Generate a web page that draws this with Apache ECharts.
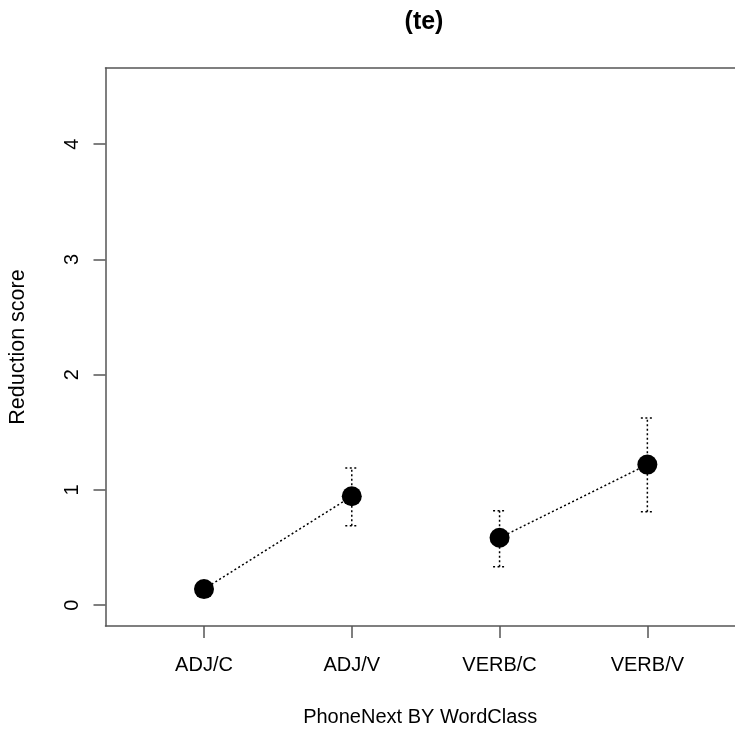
<!DOCTYPE html>
<html>
<head>
<meta charset="utf-8">
<script src="https://cdn.jsdelivr.net/npm/echarts@6/dist/echarts.min.js"></script>
<style>
  html, body { margin: 0; padding: 0; background: #fff; }
  #chart { width: 735px; height: 730px; }
</style>
</head>
<body>
<div id="chart"></div>
<script>
// Mean reduction score per PhoneNext x WordClass cell, with interval bounds
const categories = ['ADJ/C', 'ADJ/V', 'VERB/C', 'VERB/V'];
const means = [0.14, 0.945, 0.585, 1.22];
const errLow = [null, 0.69, 0.335, 0.81];
const errHigh = [null, 1.19, 0.82, 1.625];
const yTicks = [0, 1, 2, 3, 4];
const xTicks = [1, 2, 3, 4];
// Cells joined by a dotted line (same word class)
const linkedPairs = [[0, 1], [2, 3]];

const FONT = "'Liberation Sans', Arial, Helvetica, sans-serif";
const INK = '#000';
const AXIS = '#555';

const chart = echarts.init(document.getElementById('chart'), null, { renderer: 'canvas' });

const lineSeries = linkedPairs.map(pair => ({
  type: 'line',
  data: pair.map(i => [xTicks[i], means[i]]),
  symbol: 'none',
  silent: true,
  z: 2,
  lineStyle: { color: INK, width: 1.5, type: [2, 2.5] }
}));

const errData = categories
  .map((c, i) => [xTicks[i], errLow[i], errHigh[i]])
  .filter(d => d[1] != null && d[2] != null);

const errSeries = {
  type: 'custom',
  data: errData,
  silent: true,
  z: 3,
  renderItem: function (params, api) {
    const x = api.value(0);
    const lo = api.coord([x, api.value(1)]);
    const hi = api.coord([x, api.value(2)]);
    const half = 6.5;
    const style = { stroke: INK, lineWidth: 1.5, lineDash: [2, 2.5], fill: null };
    return {
      type: 'group',
      children: [
        { type: 'line', shape: { x1: lo[0], y1: lo[1], x2: hi[0], y2: hi[1] }, style: style },
        { type: 'line', shape: { x1: hi[0] - half, y1: hi[1], x2: hi[0] + half, y2: hi[1] }, style: style },
        { type: 'line', shape: { x1: lo[0] - half, y1: lo[1], x2: lo[0] + half, y2: lo[1] }, style: style }
      ]
    };
  }
};

const pointSeries = {
  type: 'scatter',
  data: means.map((m, i) => [xTicks[i], m]),
  symbol: 'circle',
  symbolSize: 20,
  silent: true,
  z: 5,
  itemStyle: { color: INK, opacity: 1 }
};

const boxLine = { show: true, onZero: false, lineStyle: { color: AXIS, width: 1.5 } };

chart.setOption({
  animation: false,
  backgroundColor: '#fff',
  textStyle: { fontFamily: FONT },
  title: {
    text: '(te)',
    left: 419,
    top: 5,
    textAlign: 'center',
    textStyle: { fontFamily: FONT, fontWeight: 'bold', fontSize: 25, color: INK }
  },
  grid: {
    left: 105.5,
    right: 0,
    top: 68,
    bottom: 104,
    show: false,
    containLabel: false,
    outerBoundsMode: 'none'
  },
  xAxis: [{
    type: 'value',
    min: 0.3336,
    max: 4.593,
    splitLine: { show: false },
    axisLine: boxLine,
    axisTick: { show: true, inside: false, length: 12, customValues: xTicks, lineStyle: { color: AXIS, width: 1.5 } },
    axisLabel: {
      customValues: xTicks,
      margin: 29.5,
      fontFamily: FONT,
      fontSize: 20,
      color: INK,
      formatter: v => categories[Math.round(v) - 1] || ''
    },
    name: 'PhoneNext BY WordClass',
    nameLocation: 'middle',
    nameGap: 81,
    nameTextStyle: { fontFamily: FONT, fontSize: 20, color: INK, verticalAlign: 'top' }
  }, {
    // top edge of the plot frame
    type: 'value',
    position: 'top',
    min: 0.3336,
    max: 4.593,
    splitLine: { show: false },
    axisLine: boxLine,
    axisTick: { show: false },
    axisLabel: { show: false }
  }],
  yAxis: {
    type: 'value',
    min: -0.18,
    max: 4.66,
    splitLine: { show: false },
    axisLine: boxLine,
    axisTick: { show: true, inside: false, length: 12, customValues: yTicks, lineStyle: { color: AXIS, width: 1.5 } },
    axisLabel: {
      customValues: yTicks,
      rotate: 90,
      margin: 23,
      fontFamily: FONT,
      fontSize: 20,
      color: INK
    },
    name: 'Reduction score',
    nameLocation: 'middle',
    nameGap: 76.5,
    nameRotate: 90,
    nameTextStyle: { fontFamily: FONT, fontSize: 21.5, color: INK }
  },
  series: [...lineSeries, errSeries, pointSeries]
});
</script>
</body>
</html>
